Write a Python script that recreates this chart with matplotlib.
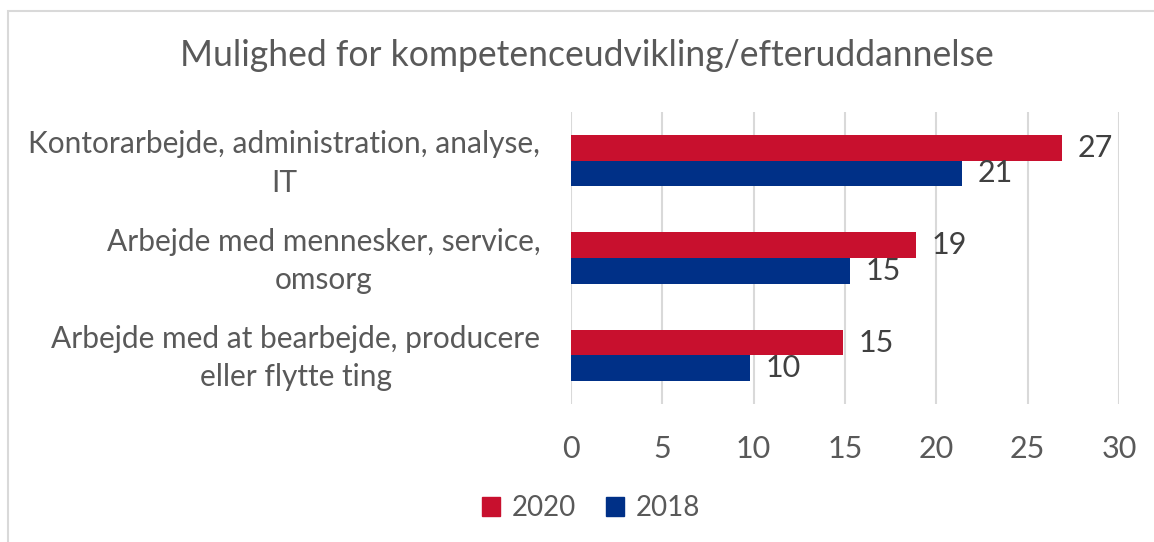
import matplotlib
matplotlib.use('Agg')
import matplotlib.pyplot as plt
import matplotlib.transforms as mtransforms
from matplotlib.patches import Rectangle, Patch
import numpy as np

plt.rcParams['font.family'] = ['Lato', 'DejaVu Sans']

title = 'Mulighed for kompetenceudvikling/efteruddannelse'
categories = [
    'Kontorarbejde, administration, analyse,\nIT',
    'Arbejde med mennesker, service,\nomsorg',
    'Arbejde med at bearbejde, producere\neller flytte ting',
]
series_names = ['2020', '2018']
values_2020 = [26.9, 18.9, 14.9]
values_2018 = [21.4, 15.3, 9.8]
xticks = [0, 5, 10, 15, 20, 25, 30]

red = '#C8102E'
blue = '#003087'
grid_col = '#D9D9D9'
text_col = '#595959'
label_col = '#404040'

fig = plt.figure(figsize=(11.54, 5.42), dpi=100)

# outer chart border (light grey)
fig.patches.append(Rectangle((8 / 1154, -0.05), 1.2, 1 - 11 / 542 + 0.05,
                             transform=fig.transFigure, fill=False,
                             edgecolor=grid_col, linewidth=1.5))

ax = fig.add_axes([571 / 1154, 138 / 542, 548 / 1154, 292 / 542])

y = np.arange(len(categories))
h = 0.263
bars20 = ax.barh(y - h / 2, values_2020, height=h, color=red, label=series_names[0])
bars18 = ax.barh(y + h / 2, values_2018, height=h, color=blue, label=series_names[1])

for bars, vals in ((bars20, values_2020), (bars18, values_2018)):
    for b, v in zip(bars, vals):
        ax.annotate(f'{v:.0f}', (v, b.get_y() + b.get_height() / 2),
                    xytext=(11, 0), textcoords='offset points',
                    ha='left', va='center', fontsize=22, color=label_col)

ax.set_xlim(0, 30)
ax.set_ylim(2.5, -0.5)
ax.set_xticks(xticks)
ax.set_yticks(y)
ax.set_yticklabels(categories, multialignment='center', linespacing=1.45)
ax.tick_params(axis='both', length=0, labelcolor=text_col)
ax.tick_params(axis='x', pad=22, labelsize=22)
ax.tick_params(axis='y', pad=22, labelsize=21.5)
# nudge category labels up a little
shift = mtransforms.ScaledTranslation(0, 5 / 100, fig.dpi_scale_trans)
for lbl in ax.get_yticklabels():
    lbl.set_transform(lbl.get_transform() + shift)
ax.grid(axis='x', color=grid_col, linewidth=1.5)
ax.set_axisbelow(True)
for s in ax.spines.values():
    s.set_visible(False)

fig.text(587 / 1154, 1 - 56 / 542, title, ha='center', va='center',
         fontsize=25.6, color=text_col)

handles = [Patch(color=red), Patch(color=blue)]
fig.legend(handles, series_names, loc='center', bbox_to_anchor=(591 / 1154, 1 - 508 / 542),
           ncol=2, frameon=False, fontsize=20, labelcolor=text_col,
           handlelength=0.65, handleheight=0.65, handletextpad=0.4, columnspacing=1.1)

fig.savefig('out.png', dpi=100, facecolor='white')
